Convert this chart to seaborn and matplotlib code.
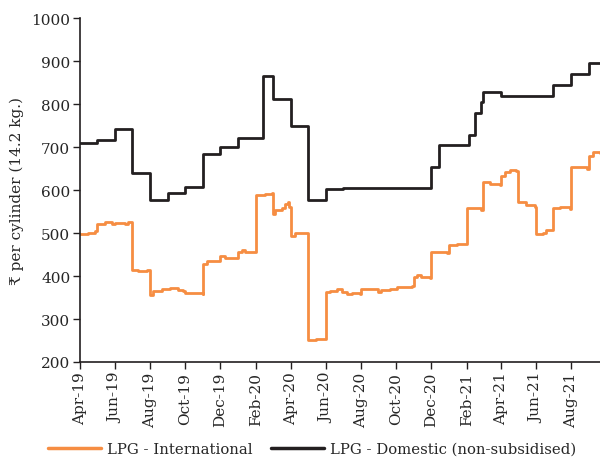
import matplotlib
matplotlib.use("Agg")
import matplotlib.pyplot as plt
import matplotlib.dates as mdates
import pandas as pd
import seaborn as sns

# LPG - International: dates where the price moves and the price from that date (Rs per 14.2 kg cylinder)
intl_dates = [
    "2019-04-01", "2019-04-15", "2019-04-27", "2019-05-01", "2019-05-14", "2019-05-26",
    "2019-06-01", "2019-06-18", "2019-06-24", "2019-07-01", "2019-07-11", "2019-07-26",
    "2019-08-01", "2019-08-06", "2019-08-21", "2019-09-04", "2019-09-18", "2019-09-27",
    "2019-10-01", "2019-10-18", "2019-10-31", "2019-11-01", "2019-11-07", "2019-11-21",
    "2019-11-27", "2019-12-01", "2019-12-08", "2019-12-26", "2020-01-01", "2020-01-07",
    "2020-01-12", "2020-01-30", "2020-02-01", "2020-02-16", "2020-02-28", "2020-03-01",
    "2020-03-05", "2020-03-16", "2020-03-22", "2020-03-27", "2020-03-29", "2020-04-01",
    "2020-04-08", "2020-04-26", "2020-05-01", "2020-05-14", "2020-05-31", "2020-06-01",
    "2020-06-09", "2020-06-21", "2020-06-29", "2020-07-07", "2020-07-17", "2020-07-31",
    "2020-08-01", "2020-08-17", "2020-08-26", "2020-08-30", "2020-09-04", "2020-09-21",
    "2020-09-27", "2020-10-03", "2020-10-29", "2020-11-01", "2020-11-06", "2020-11-14",
    "2020-11-29", "2020-12-01", "2020-12-16", "2020-12-28", "2021-01-01", "2021-01-14",
    "2021-01-30", "2021-02-01", "2021-02-12", "2021-02-26", "2021-03-01", "2021-03-13",
    "2021-03-30", "2021-04-01", "2021-04-08", "2021-04-17", "2021-04-28", "2021-05-01",
    "2021-05-15", "2021-05-30", "2021-06-01", "2021-06-13", "2021-06-18", "2021-06-30",
    "2021-07-01", "2021-07-12", "2021-07-30", "2021-08-01", "2021-08-16", "2021-08-29",
    "2021-09-01", "2021-09-08", "2021-09-20",
]
intl_values = [
    498, 501, 505, 522, 526, 521,
    524, 522, 526, 413, 412, 414,
    357, 366, 370, 372, 368, 366,
    360, 360, 359, 429, 436, 435,
    436, 446, 442, 443, 456, 460,
    455, 456, 589, 591, 594, 545,
    553, 558, 568, 572, 560, 494,
    500, 500, 252, 253, 253, 364,
    366, 369, 364, 359, 361, 358,
    370, 370, 369, 364, 368, 369,
    370, 374, 377, 398, 402, 398,
    395, 456, 456, 454, 473, 474,
    474, 558, 558, 554, 619, 615,
    611, 634, 643, 648, 644, 572,
    566, 560, 498, 501, 508, 509,
    559, 560, 556, 653, 653, 649,
    680, 688, 687,
]

# LPG - Domestic (non-subsidised): revision dates and revised price
dom_dates = [
    "2019-04-01", "2019-05-01", "2019-06-01", "2019-07-01", "2019-08-01", "2019-09-01",
    "2019-10-01", "2019-11-01", "2019-12-01", "2020-01-01", "2020-02-12", "2020-03-01",
    "2020-04-01", "2020-05-01", "2020-06-01", "2020-07-01", "2020-12-01", "2020-12-15",
    "2021-02-04", "2021-02-15", "2021-02-25", "2021-03-01", "2021-04-01", "2021-07-01",
    "2021-08-01", "2021-09-01", "2021-09-20",
]
dom_values = [
    710, 716, 742, 641, 577, 594,
    607, 684, 700, 721, 866, 813,
    749, 577, 602, 604, 655, 706,
    729, 780, 805, 829, 820, 845,
    870, 896, 896,
]

series_names = ["LPG - International", "LPG - Domestic (non-subsidised)"]
series_colors = ["#F68D42", "#231F20"]
y_label = "₹ per cylinder (14.2 kg.)"

df = pd.concat([
    pd.DataFrame({"date": pd.to_datetime(intl_dates), "price": intl_values, "series": series_names[0]}),
    pd.DataFrame({"date": pd.to_datetime(dom_dates), "price": dom_values, "series": series_names[1]}),
], ignore_index=True)

sns.set_style("white")
plt.rcParams["font.family"] = ["DejaVu Serif", "DejaVu Sans"]

fig = plt.figure(figsize=(6.0, 4.64), dpi=100)
ax = fig.add_axes([0.1333, 0.2177, 0.8667, 0.7407])

sns.lineplot(
    data=df, x="date", y="price", hue="series", hue_order=series_names,
    palette=dict(zip(series_names, series_colors)), estimator=None,
    drawstyle="steps-post", linewidth=2.0, ax=ax, legend=False,
)

ax.set_xlim(pd.Timestamp("2019-04-01"), pd.Timestamp("2021-09-20"))
ax.set_ylim(200, 1000)
ax.set_yticks(range(200, 1001, 100))
ax.xaxis.set_major_locator(mdates.MonthLocator(bymonth=[2, 4, 6, 8, 10, 12]))
ax.xaxis.set_major_formatter(mdates.DateFormatter("%b-%y"))
ax.tick_params(axis="x", rotation=90, labelsize=11, length=5, width=1, color="#231F20", pad=2)
ax.tick_params(axis="y", labelsize=11, length=5, width=1, color="#231F20", pad=2)
ax.tick_params(bottom=True, left=True)
ax.set_xlabel("")
ax.set_ylabel(y_label, fontsize=11, labelpad=5)

for side in ("top", "right"):
    ax.spines[side].set_visible(False)
for side in ("left", "bottom"):
    ax.spines[side].set_color("#231F20")
    ax.spines[side].set_linewidth(1.2)

handles = [plt.Line2D([], [], color=c, linewidth=2.5) for c in series_colors]
fig.legend(handles, series_names, loc="center", bbox_to_anchor=(0.52, 0.03), ncol=2,
           frameon=False, fontsize=10.7, handlelength=3.6, columnspacing=1.2, handletextpad=0.4)

fig.savefig("out.png", dpi=100)
